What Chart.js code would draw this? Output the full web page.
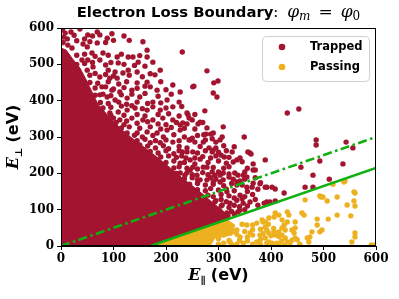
<!DOCTYPE html>
<html>
<head>
<meta charset="utf-8">
<script src="https://cdn.jsdelivr.net/npm/chart.js@4.4.0/dist/chart.umd.min.js"></script>
<style>
  html, body { margin: 0; padding: 0; background: #fff; }
  #wrap { width: 399px; height: 299px; }
</style>
</head>
<body>
<div id="wrap"><canvas id="chart" width="399" height="299"></canvas></div>
<script>
// axis ticks (eV)
const xTicks = [0, 100, 200, 300, 400, 500, 600];
const yTicks = [0, 100, 200, 300, 400, 500, 600];

// outline of the solid mass of trapped electrons (E_par, E_perp)
const trappedCore = [
    [0, 545], [10, 539], [21, 517], [36, 490], [48, 457], [59, 424], [70, 391],
    [90, 358], [112, 325], [135, 297], [160, 270], [185, 242], [208, 215],
    [231, 187], [255, 160], [274, 138], [291, 116], [307, 99], [322, 77],
    [312, 71], [170, 0], [0, 0], [0, 545]
];

// scattered trapped electrons
const trappedPoints = [
    [8, 586], [19, 589], [36, 597], [51, 581], [69, 589], [74, 581], [97, 584],
    [13, 553], [42, 556], [50, 548], [69, 559], [59, 531], [21, 545], [80, 531],
    [156, 562], [164, 539], [231, 534], [40, 512], [51, 512], [74, 512],
    [107, 520], [109, 504], [128, 520], [137, 520], [147, 506], [164, 520],
    [175, 506], [189, 484], [145, 479], [128, 484], [103, 479], [90, 484],
    [61, 493], [50, 484], [74, 465], [93, 462], [107, 462], [118, 476],
    [145, 449], [164, 451], [179, 471], [213, 443], [251, 438], [227, 424],
    [183, 429], [135, 429], [112, 424], [97, 429], [78, 438], [74, 416],
    [88, 410], [103, 402], [126, 407], [150, 410], [175, 396], [202, 402],
    [213, 383], [240, 366], [189, 374], [164, 374], [141, 380], [126, 374],
    [109, 369], [93, 366], [112, 347], [135, 352], [156, 347], [175, 347],
    [194, 352], [213, 347], [232, 339], [250, 347], [227, 319], [202, 319],
    [183, 311], [164, 314], [145, 311], [126, 311], [246, 292], [213, 286],
    [189, 284], [170, 284], [150, 278],
    [278, 482], [291, 449], [299, 454], [290, 421], [297, 410], [274, 372],
    [265, 341], [278, 325], [290, 311], [272, 306], [309, 328], [307, 300],
    [303, 292], [288, 295], [295, 270], [282, 270], [288, 259], [330, 273],
    [349, 300], [360, 256], [431, 366], [453, 377], [486, 292], [486, 278],
    [543, 286], [556, 270], [305, 250], [311, 245], [253, 440], [242, 361],
    [244, 352], [227, 333], [261, 336], [276, 308], [250, 297], [244, 292],
    [271, 286], [231, 259], [240, 259], [251, 259], [290, 264], [326, 259],
    [356, 259], [362, 253], [238, 242], [246, 237], [255, 242], [265, 239],
    [227, 228], [251, 217], [246, 209], [271, 217], [278, 217], [328, 231],
    [335, 237], [341, 242], [366, 226], [389, 237], [366, 209], [370, 209],
    [227, 201], [236, 195], [259, 195], [288, 204], [293, 195], [303, 195],
    [309, 201], [331, 201], [337, 195], [347, 195], [265, 182], [278, 182],
    [290, 176], [303, 176], [309, 182], [328, 184], [335, 176], [341, 179],
    [354, 190], [364, 162], [379, 171], [392, 162], [402, 162], [465, 162],
    [493, 234], [457, 217], [537, 226], [480, 195], [511, 184], [480, 162],
    [335, 168], [354, 162], [366, 173], [316, 149], [341, 140], [293, 121],
    [307, 113], [322, 118], [347, 118], [360, 121], [337, 94], [316, 91],
    [389, 162], [408, 157], [425, 146], [392, 121], [398, 121], [408, 124],
    [387, 118]
];

// dense band of trapped electrons just outside the solid mass
const trappedBand = [
    [3, 595], [5, 575], [12, 570], [4, 560], [25, 580], [45, 570], [60, 578], [88, 572], [120, 578],
    [30, 565], [55, 562], [85, 560], [100, 566], [130, 566],
    [30, 525], [45, 528], [65, 522], [90, 525], [115, 528], [150, 524],
    [30, 500], [45, 502], [60, 505], [85, 498], [95, 505], [120, 500], [140, 497], [160, 495],
    [55, 470], [65, 475], [85, 472], [100, 468], [130, 470], [155, 466], [170, 474],
    [55, 450], [70, 448], [90, 452], [110, 446], [125, 452], [160, 440], [190, 452],
    [65, 435], [85, 438], [100, 432], [120, 436], [145, 434], [170, 438], [200, 430],
    [65, 415], [80, 418], [95, 414], [115, 416], [135, 418], [160, 420], [185, 412], [210, 418],
    [75, 395], [90, 392], [110, 396], [125, 390], [145, 396], [165, 392], [190, 394], [225, 396],
    [80, 380], [95, 382], [115, 385], [135, 386], [155, 378], [175, 383], [200, 380], [230, 384],
    [95, 360], [100, 352], [120, 360], [145, 362], [160, 358], [185, 362], [205, 364], [225, 358], [255, 362],
    [105, 340], [120, 334], [125, 344], [145, 338], [165, 342], [185, 336], [200, 334], [220, 340], [240, 336], [270, 340],
    [115, 325], [130, 328], [150, 324], [170, 328], [190, 322], [210, 326], [235, 324], [255, 322],
    [140, 305], [155, 300], [175, 304], [195, 300], [215, 306], [235, 300], [260, 304], [285, 308],
    [145, 290], [160, 294], [180, 290], [200, 292], [225, 290], [255, 286], [275, 292], [295, 286],
    [165, 275], [180, 270], [195, 276], [205, 268], [225, 274], [240, 270], [265, 274], [310, 276],
    [170, 260], [185, 256], [200, 262], [215, 254], [225, 262], [260, 256], [275, 262], [300, 258], [315, 262],
    [190, 245], [205, 248], [220, 244], [230, 248], [270, 246], [285, 242], [295, 248], [320, 244],
    [200, 230], [215, 234], [235, 230], [255, 226], [280, 230], [300, 234], [315, 228], [345, 232],
    [215, 215], [225, 218], [240, 214], [260, 212], [290, 216], [310, 214], [320, 218], [355, 214],
    [220, 200], [240, 202], [250, 196], [270, 202], [280, 196], [300, 204], [320, 198], [350, 204],
    [235, 185], [250, 188], [260, 182], [285, 188], [295, 184], [320, 190], [350, 184], [370, 188],
    [245, 170], [260, 172], [275, 168], [290, 170], [310, 166], [325, 172], [345, 168], [380, 174],
    [260, 155], [275, 152], [285, 158], [300, 154], [315, 156], [330, 152], [355, 150], [375, 156],
    [280, 140], [290, 136], [305, 142], [320, 138], [330, 132], [350, 136], [365, 142],
    [295, 125], [305, 128], [315, 122], [335, 126], [345, 130], [370, 128],
    [305, 110], [320, 106], [330, 112], [340, 108], [355, 110], [375, 112],
    [325, 95], [340, 98], [350, 100], [318, 84], [330, 88]
];

// outline of the solid mass of passing electrons
const passingCore = [
    [170, 0], [316, 73], [331, 58], [326, 30], [293, 22], [284, 0], [170, 0]
];

// scattered passing electrons
const passingPoints = [
    [309, 50], [322, 52], [335, 44], [354, 58], [373, 63], [385, 66], [341, 25],
    [360, 36], [379, 30], [392, 44], [322, 11], [347, 8], [373, 11], [392, 8],
    [465, 127], [493, 138], [499, 135], [560, 146], [545, 113], [560, 110],
    [526, 85], [552, 83], [459, 91], [463, 85], [488, 74], [408, 91], [415, 85],
    [406, 80], [396, 77], [431, 94], [434, 85], [383, 72], [389, 66], [421, 72],
    [431, 66], [425, 58], [446, 66], [488, 58], [497, 44], [493, 39], [478, 39],
    [446, 50], [440, 44], [444, 36], [421, 50], [427, 44], [415, 39], [406, 39],
    [396, 36], [408, 30], [421, 30], [389, 52], [469, 22], [472, 11], [446, 22],
    [450, 17], [427, 22], [431, 11], [436, 8], [389, 22], [396, 11], [402, 8],
    [411, 8], [560, 25], [554, 11], [591, 3], [598, 3], [539, 176], [558, 149],
    [558, 124], [526, 135], [507, 124], [495, 135], [509, 74], [560, 36],
    [474, 25], [541, 179], [518, 170], [300, 20], [305, 35], [340, 15],
    [355, 25], [365, 45], [350, 40], [335, 5], [310, 8], [300, 5],
    [345, 60], [365, 58], [395, 60], [315, 45], [330, 40], [380, 46], [405, 48],
    [310, 30], [335, 32], [365, 30], [385, 34], [400, 28], [415, 26],
    [320, 15], [355, 14], [380, 18], [420, 14], [440, 16], [325, 4], [365, 5],
    [380, 4], [415, 4], [425, 2], [455, 5]
];

// loss boundaries
const boundaryX = [0, 600];
const boundaryPhi0 = [0, 300];     // dash-dot
const lossLineX = [170, 600];
const lossLineY = [0, 215];        // solid

const TRAPPED = '#A2142F';
const PASSING = '#EDB120';
const GREEN = '#11B011';

const toXY = arr => arr.map(p => ({ x: p[0], y: p[1] }));
const zipXY = (xs, ys) => xs.map((x, i) => ({ x: x, y: ys[i] }));

// draws a row of text pieces with different fonts
function drawRich(ctx, parts, cx, cy, angle) {
    ctx.save();
    ctx.translate(cx, cy);
    ctx.rotate(angle || 0);
    let total = 0;
    parts.forEach(p => { ctx.font = p.font; total += ctx.measureText(p.text).width + (p.gap || 0); });
    let x = -total / 2;
    ctx.textBaseline = 'middle';
    ctx.textAlign = 'left';
    ctx.fillStyle = '#000';
    parts.forEach(p => {
        ctx.font = p.font;
        ctx.fillText(p.text, x, p.dy || 0);
        x += ctx.measureText(p.text).width + (p.gap || 0);
    });
    ctx.restore();
}

const decorPlugin = {
    id: 'decor',
    afterDraw(chart) {
        const ctx = chart.ctx;
        const a = chart.chartArea;

        // frame
        ctx.save();
        ctx.strokeStyle = '#000';
        ctx.lineWidth = 1;
        ctx.strokeRect(a.left + 0.5, a.top + 0.5, a.right - a.left - 1, a.bottom - a.top - 1);
        ctx.restore();

        // title
        drawRich(ctx, [
            { text: 'Electron Loss Boundary', font: 'bold 14.8px "DejaVu Sans"' },
            { text: ': ', font: '15px "DejaVu Serif"', gap: 4 },
            { text: 'φ', font: 'italic 17px "DejaVu Serif"' },
            { text: 'm', font: 'italic 12px "DejaVu Serif"', dy: 4, gap: 8 },
            { text: '=', font: '17px "DejaVu Serif"', gap: 8 },
            { text: 'φ', font: 'italic 17px "DejaVu Serif"' },
            { text: '0', font: '12px "DejaVu Serif"', dy: 4 }
        ], (a.left + a.right) / 2, 13);

        // axis titles
        drawRich(ctx, [
            { text: 'E', font: 'bold italic 16px "DejaVu Serif"' },
            { text: '∥', font: 'bold 10px "DejaVu Serif"', dy: 5, gap: 5 },
            { text: '(eV)', font: 'bold 16px "DejaVu Sans"' }
        ], (a.left + a.right) / 2, 276);
        drawRich(ctx, [
            { text: 'E', font: 'bold italic 16px "DejaVu Serif"' },
            { text: '⊥', font: 'bold 10px "DejaVu Serif"', dy: 5, gap: 5 },
            { text: '(eV)', font: 'bold 16px "DejaVu Sans"' }
        ], 14, (a.top + a.bottom) / 2, -Math.PI / 2);

        // legend box
        ctx.save();
        const lx = 262.5, ly = 36.5, lw = 107, lh = 45, r = 4;
        ctx.beginPath();
        ctx.moveTo(lx + r, ly);
        ctx.arcTo(lx + lw, ly, lx + lw, ly + lh, r);
        ctx.arcTo(lx + lw, ly + lh, lx, ly + lh, r);
        ctx.arcTo(lx, ly + lh, lx, ly, r);
        ctx.arcTo(lx, ly, lx + lw, ly, r);
        ctx.closePath();
        ctx.fillStyle = 'rgba(255,255,255,0.85)';
        ctx.fill();
        ctx.strokeStyle = '#d0d0d0';
        ctx.lineWidth = 1;
        ctx.stroke();
        const items = [['Trapped', TRAPPED, 47], ['Passing', PASSING, 67]];
        items.forEach(it => {
            ctx.beginPath();
            ctx.arc(282, it[2], 3.3, 0, Math.PI * 2);
            ctx.fillStyle = it[1];
            ctx.fill();
            ctx.fillStyle = '#000';
            ctx.font = 'bold 11.5px "DejaVu Sans"';
            ctx.textBaseline = 'middle';
            ctx.textAlign = 'left';
            ctx.fillText(it[0], 310, it[2]);
        });
        ctx.restore();
    }
};

const tickFont = { family: '"DejaVu Serif"', size: 12, weight: 'bold' };

new Chart(document.getElementById('chart'), {
    type: 'scatter',
    data: {
        datasets: [
            {
                label: 'dash-dot boundary',
                type: 'line',
                data: zipXY(boundaryX, boundaryPhi0),
                borderColor: GREEN,
                borderWidth: 2.6,
                borderDash: [9, 3.5, 2.5, 3.5],
                pointRadius: 0,
                fill: false,
                order: 0
            },
            {
                label: 'loss boundary',
                type: 'line',
                data: zipXY(lossLineX, lossLineY),
                borderColor: GREEN,
                borderWidth: 2.6,
                pointRadius: 0,
                fill: false,
                order: 0
            },
            {
                label: 'Trapped',
                data: toXY(trappedPoints.concat(trappedBand)),
                backgroundColor: TRAPPED,
                borderWidth: 0,
                pointRadius: 2.7,
                order: 1
            },
            {
                label: 'Passing',
                data: toXY(passingPoints),
                backgroundColor: PASSING,
                borderWidth: 0,
                pointRadius: 2.7,
                order: 1
            },
            {
                label: 'Trapped core',
                data: toXY(trappedCore),
                showLine: true,
                borderColor: TRAPPED,
                borderWidth: 1,
                backgroundColor: TRAPPED,
                pointRadius: 0,
                fill: 'shape',
                order: 2
            },
            {
                label: 'Passing core',
                data: toXY(passingCore),
                showLine: true,
                borderColor: PASSING,
                borderWidth: 1,
                backgroundColor: PASSING,
                pointRadius: 0,
                fill: 'shape',
                order: 2
            }
        ]
    },
    options: {
        responsive: false,
        animation: false,
        events: [],
        layout: { padding: { left: 0, right: 23, top: 28, bottom: 0 } },
        plugins: {
            legend: { display: false },
            tooltip: { enabled: false },
            title: { display: false }
        },
        scales: {
            x: {
                type: 'linear',
                min: 0,
                max: 600,
                afterBuildTicks: s => { s.ticks = xTicks.map(v => ({ value: v })); },
                afterFit: s => { s.height = 53; },
                grid: { drawOnChartArea: false, drawTicks: true, tickLength: 4, color: '#000' },
                border: { color: '#000', width: 1 },
                ticks: { color: '#000', font: tickFont, padding: 2, maxRotation: 0 }
            },
            y: {
                type: 'linear',
                min: 0,
                max: 600,
                afterBuildTicks: s => { s.ticks = yTicks.map(v => ({ value: v })); },
                afterFit: s => { s.width = 61; },
                grid: { drawOnChartArea: false, drawTicks: true, tickLength: 4, color: '#000' },
                border: { color: '#000', width: 1 },
                ticks: { color: '#000', font: tickFont, padding: 3 }
            }
        }
    },
    plugins: [decorPlugin]
});
</script>
</body>
</html>
